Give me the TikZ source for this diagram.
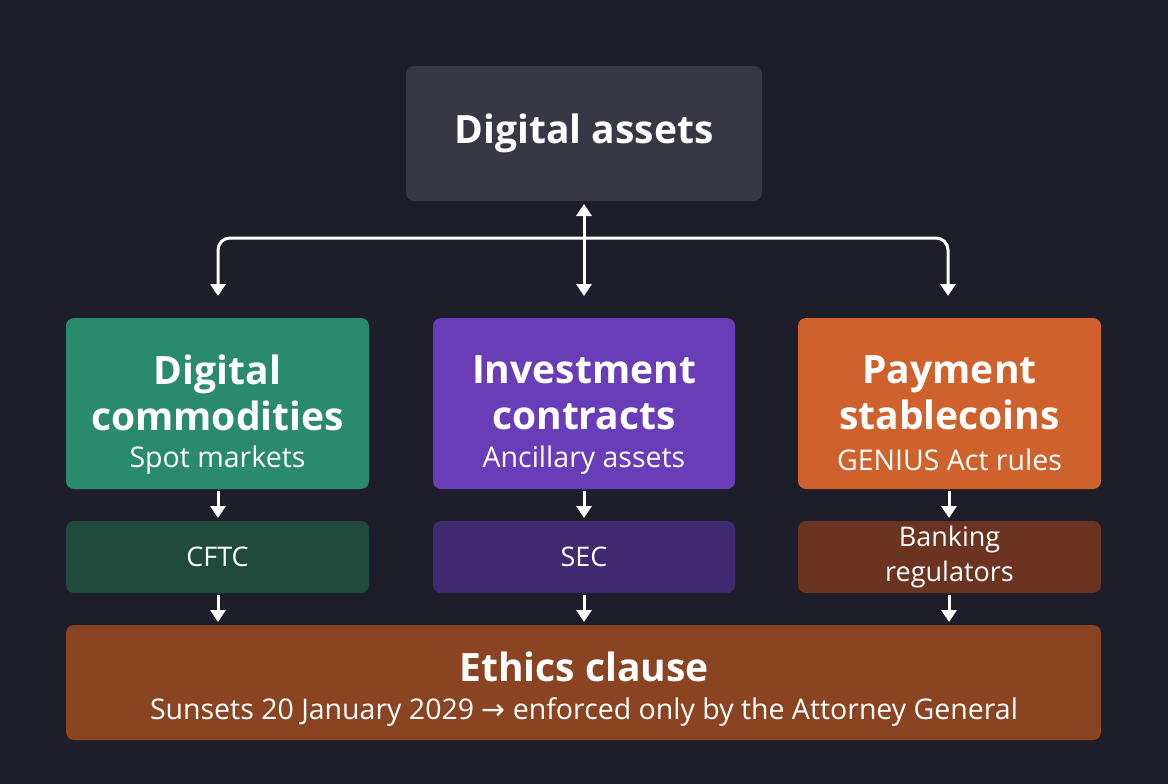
\documentclass[tikz,border=0pt]{standalone}
\usepackage{fontspec}
\setmainfont{Open Sans}
\newfontfamily\djv{DejaVu Sans}
\usetikzlibrary{arrows.meta}
\definecolor{bg}{HTML}{1E1E2A}
\definecolor{topc}{HTML}{383844}
\definecolor{gr}{HTML}{2A8A6E}
\definecolor{pu}{HTML}{6A3DB8}
\definecolor{orc}{HTML}{CF622C}
\definecolor{dgr}{HTML}{1F4A3C}
\definecolor{dpu}{HTML}{3E2A6E}
\definecolor{dor}{HTML}{6A3420}
\definecolor{eth}{HTML}{8A4422}
\begin{document}
\begin{tikzpicture}[x=1pt,y=-1pt,
 arr/.style={draw=white,line width=3pt,-{Triangle[length=12pt,width=15pt]}},
 ttl/.style={text=white,align=center,font=\fontsize{39}{46}\selectfont\bfseries},
 sub/.style={text=white,font=\fontsize{28.5}{33}\selectfont}]
\fill[bg] (0,0) rectangle (1168,784);
\useasboundingbox (0,0) rectangle (1168,784);
\fill[topc,rounded corners=8pt] (406,66) rectangle (762,201);
\node[ttl] (top) at (584,133) {Digital assets};
\fill[gr,rounded corners=8pt] (66,318) rectangle (369,489);
\fill[pu,rounded corners=8pt] (433,318) rectangle (735,489);
\fill[orc,rounded corners=8pt] (798,318) rectangle (1101,489);
\node[ttl] (g) at (217.5,393) {Digital\\commodities};
\node[sub] (gs) at (217.5,460) {Spot markets};
\node[ttl] (p) at (584,393) {Investment\\contracts};
\node[sub] (ps) at (584,460) {Ancillary assets};
\node[ttl] (o) at (949.5,393) {Payment\\stablecoins};
\node[sub] (os) at (949.5,460) {GENIUS Act rules};
\fill[dgr,rounded corners=8pt] (66,521) rectangle (369,593);
\fill[dpu,rounded corners=8pt] (433,521) rectangle (735,593);
\fill[dor,rounded corners=8pt] (798,521) rectangle (1101,593);
\node[sub,font=\fontsize{27}{33}\selectfont] (cftc) at (217.5,557) {CFTC};
\node[sub,font=\fontsize{27}{33}\selectfont] (sec) at (584,557) {SEC};
\node[sub,align=center,font=\fontsize{27}{35}\selectfont] (bank) at (949.5,557) {Banking\\regulators};
\fill[eth,rounded corners=8pt] (66,625) rectangle (1101,740);
\node[ttl] (e) at (584,667) {Ethics clause};
\node[sub] (es) at (584,712) {Sunsets 20 January 2029 {\djv →} enforced only by the Attorney General};
\coordinate (a0) at (584,204);
\coordinate (a1) at (584,238);
\draw[arr] (a1) -- (a0);
\draw[arr,rounded corners=12pt] (a1) -| (218,296);
\draw[arr,rounded corners=12pt] (a1) -| (948,296);
\draw[arr] (a1) -- (584,296);
\foreach \x in {218,584,949}{
 \draw[arr] (\x,491) -- (\x,518);
 \draw[arr] (\x,595) -- (\x,622);}
\end{tikzpicture}
\end{document}
